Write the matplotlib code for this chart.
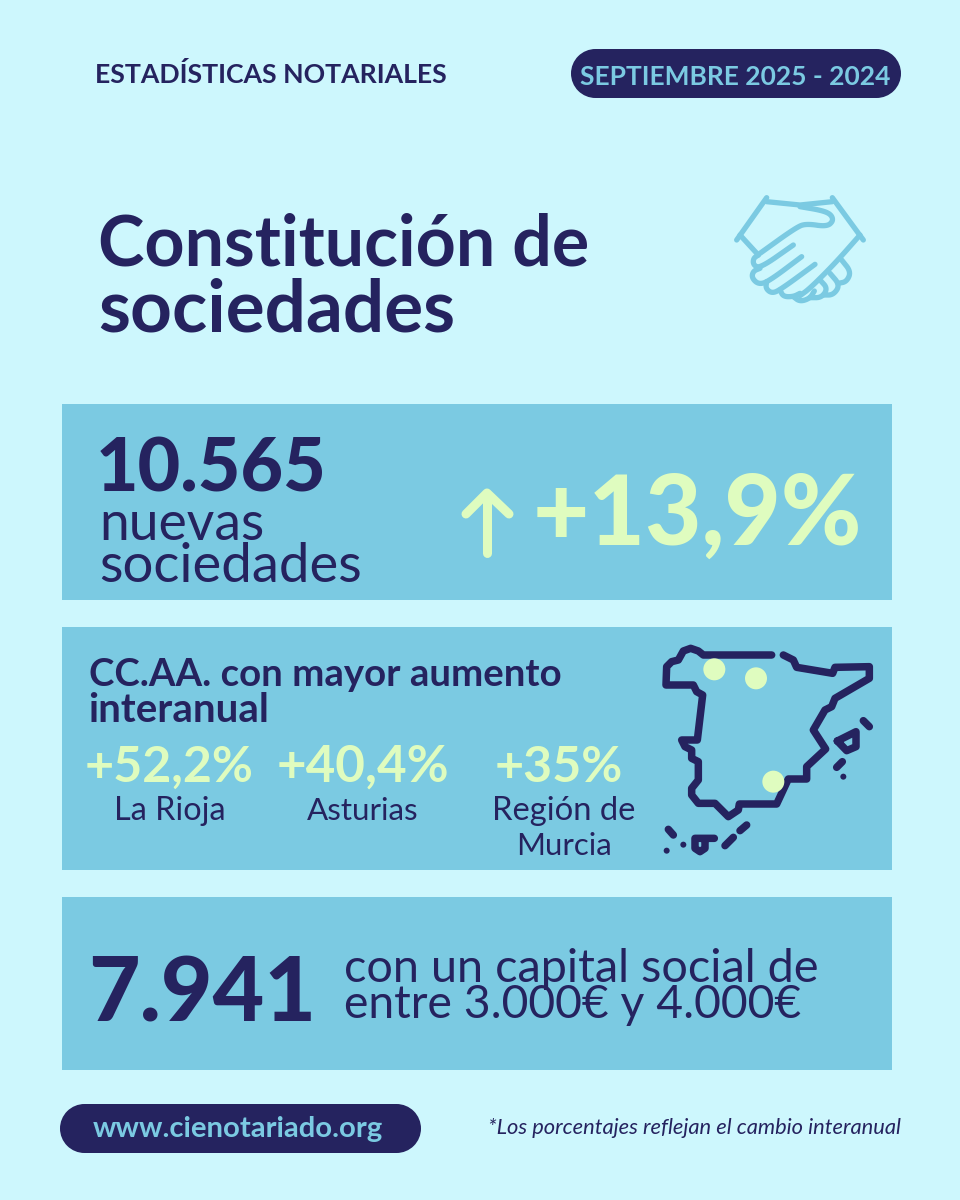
import matplotlib
matplotlib.use("Agg")
import matplotlib.pyplot as plt
from matplotlib.patches import Rectangle, Circle

NAVY = "#25235f"
BG = "#cdf7fd"
PANEL = "#7bcae2"
LIME = "#dffcbf"
FONT = "Lato"

header = "ESTADÍSTICAS NOTARIALES"
period = "SEPTIEMBRE 2025 - 2024"
title_lines = ["Constitución de", "sociedades"]
total_value = "10.565"
total_label = ["nuevas", "sociedades"]
total_change = "+13,9%"
ccaa_title = ["CC.AA. con mayor aumento", "interanual"]
ccaa_changes = ["+52,2%", "+40,4%", "+35%"]
ccaa_names = ["La Rioja", "Asturias", "Región de", "Murcia"]
capital_value = "7.941"
capital_label = ["con un capital social de", "entre 3.000€ y 4.000€"]
website = "www.cienotariado.org"
footnote = "*Los porcentajes reflejan el cambio interanual"

map_outline = [(365,60),(160,60),(145,48),(122,40),(100,48),(85,75),(65,80),(50,95),(48,150),(130,150),
               (140,170),(158,180),(142,315),(95,315),(105,335),(125,345),(125,370),(145,380),(145,435),
               (125,460),(125,480),(145,505),(195,505),(235,545),(265,525),(268,507),(380,507),(415,432),
               (470,432),(470,395),(527,342),(490,285),(525,225),(545,215),(555,190),(658,130),(658,95),
               (555,97),(548,115),(440,97),(430,75),(400,60)]
map_islands = [[(562,318),(618,290),(618,335),(590,347),(562,318)],
               [(640,257),(658,275)], [(560,397),(577,380)],
               [(55,583),(70,600)], [(225,632),(250,607)], [(270,587),(290,570)],
               [(193,610),(135,610),(135,640),(150,650),(165,640),(165,612)]]
map_dots = [(580,425),(100,629),(50,647)]
map_marks = [(193,103),(318,130),(370,440)]

hand_lines = [
    [(125,38),(35,165)], [(322,38),(415,165)],
    [(125,50),(225,60),(322,50)],
    [(225,65),(290,76),(318,88),(325,108),(305,125),(245,116),(215,126),(105,205)],
    [(45,150),(100,210)],
    [(205,180),(105,250),(85,240),(85,220),(100,210)],
    [(230,215),(130,290),(100,298),(80,278),(85,258),(105,250)],
    [(270,238),(165,315),(140,325),(122,310),(125,290)],
    [(405,150),(330,235),(255,310),(225,332)],
    [(165,315),(175,335),(205,335),(225,325)],
    [(205,335),(225,350),(255,340),(268,318)],
    [(255,338),(290,338),(308,310),(285,285)],
    [(295,330),(325,330),(345,300),(315,265)],
    [(340,295),(365,290),(378,260),(350,225)],
]

fig = plt.figure(figsize=(9.6, 12), dpi=100, facecolor=BG)
ax = fig.add_axes([0, 0, 1, 1])
ax.set_xlim(0, 960); ax.set_ylim(1200, 0); ax.axis("off")
renderer = fig.canvas.get_renderer()

def fit(s, x0, x1, y, color=NAVY, weight="bold", style="normal"):
    t = ax.text(x0, y, s, color=color, fontweight=weight, fontstyle=style,
                family=FONT, fontsize=20, va="baseline", ha="left")
    w = t.get_window_extent(renderer).width
    t.set_fontsize(20 * (x1 - x0) / w)
    return t

def pill(x0, x1, y0, y1):
    r = (y1 - y0) / 2
    ax.add_patch(Rectangle((x0 + r, y0), x1 - x0 - 2 * r, y1 - y0, fc=NAVY, ec="none"))
    ax.add_patch(Circle((x0 + r, y0 + r), r, fc=NAVY, ec="none"))
    ax.add_patch(Circle((x1 - r, y0 + r), r, fc=NAVY, ec="none"))

def smooth(pts, n=3):
    for _ in range(n):
        new = [pts[0]]
        for a, b in zip(pts[:-1], pts[1:]):
            new.append((0.75 * a[0] + 0.25 * b[0], 0.75 * a[1] + 0.25 * b[1]))
            new.append((0.25 * a[0] + 0.75 * b[0], 0.25 * a[1] + 0.75 * b[1]))
        new.append(pts[-1])
        pts = new
    return pts

def stroke(pts, ox, oy, s, color, lw):
    ax.plot([ox + p[0] / s for p in pts], [oy + p[1] / s for p in pts], color=color, lw=lw,
            solid_capstyle="round", solid_joinstyle="round")

# panels
for y0, y1 in [(404, 600), (627, 870), (897, 1070)]:
    ax.add_patch(Rectangle((62, y0), 830, y1 - y0, fc=PANEL, ec="none"))

# header
fit(header, 95, 446, 83)
pill(571, 901, 49, 98)
fit(period, 580, 891, 85, color=PANEL)

# title
fit(title_lines[0], 98, 590, 266)
fit(title_lines[1], 98, 456, 332)

# handshake icon
for pts in hand_lines:
    stroke(smooth(pts) if len(pts) > 3 else pts, 725, 185, 3, PANEL, 3.8)

# panel 1
fit(total_value, 96, 326, 491, weight="black")
fit(total_label[0], 99, 265, 540, weight="normal")
fit(total_label[1], 99, 362, 582, weight="normal")
stroke([(487, 553), (487, 494)], 0, 0, 1, LIME, 6.5)
stroke([(466, 514), (487, 493), (509, 514)], 0, 0, 1, LIME, 6.5)
fit(total_change, 533, 862, 545, color=LIME, weight="black")

# panel 2
fit(ccaa_title[0], 89, 561, 686)
fit(ccaa_title[1], 88, 268, 722)
fit(ccaa_changes[0], 85, 254, 782, color=LIME)
fit(ccaa_changes[1], 277, 450, 782, color=LIME)
fit(ccaa_changes[2], 495, 623, 782, color=LIME)
fit(ccaa_names[0], 114, 225, 820, weight="normal")
fit(ccaa_names[1], 307, 419, 820, weight="normal")
fit(ccaa_names[2], 492, 636, 820, weight="normal")
fit(ccaa_names[3], 516, 612, 855, weight="normal")

# map
stroke(map_outline, 650, 635, 3, NAVY, 5.4)
for pts in map_islands:
    stroke(pts, 650, 635, 3, NAVY, 5.4)
for x, y in map_dots:
    ax.add_patch(Circle((650 + x / 3, 635 + y / 3), 3, fc=NAVY, ec="none"))
for x, y in map_marks:
    ax.add_patch(Circle((650 + x / 3, 635 + y / 3), 11, fc=LIME, ec="none", zorder=5))

# panel 3
fit(capital_value, 88, 315, 1021, weight="black")
fit(capital_label[0], 344, 820, 982, weight="normal")
fit(capital_label[1], 344, 802, 1018, weight="normal")

# footer
pill(60, 421, 1104, 1153)
fit(website, 93, 383, 1137, color=PANEL)
fit(footnote, 488, 901, 1134, weight="normal", style="italic")

fig.savefig("out.png", dpi=100, facecolor=BG)
